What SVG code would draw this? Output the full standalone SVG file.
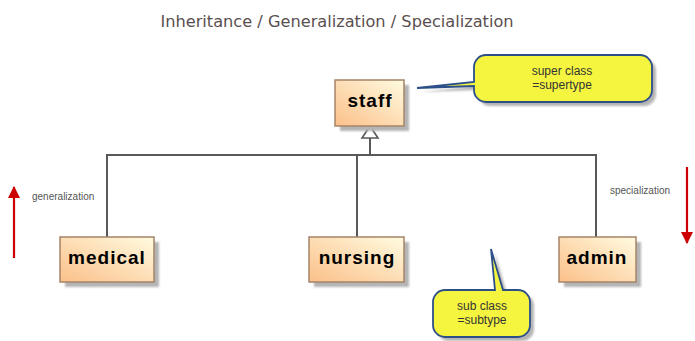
<svg xmlns="http://www.w3.org/2000/svg" width="695" height="341" viewBox="0 0 695 341">
  <defs>
    <linearGradient id="classFill" x1="0" y1="1" x2="1" y2="0">
      <stop offset="0" stop-color="#fbc08a"/>
      <stop offset="1" stop-color="#fffbe0"/>
    </linearGradient>
    <filter id="soft" x="-20%" y="-20%" width="140%" height="140%">
      <feGaussianBlur stdDeviation="1.2"/>
    </filter>
    <marker id="redHead" viewBox="0 0 12 12" refX="11" refY="6" markerWidth="12" markerHeight="12" markerUnits="userSpaceOnUse" orient="auto">
      <path d="M0,0 L12,6 L0,12 Z" fill="#cc0000"/>
    </marker>
    <marker id="redHeadShadow" viewBox="0 0 12 12" refX="11" refY="6" markerWidth="12" markerHeight="12" markerUnits="userSpaceOnUse" orient="auto">
      <path d="M0,0 L12,6 L0,12 Z" fill="#bbbbbb"/>
    </marker>
  </defs>
  <style>
    .title { font-family: "DejaVu Sans", sans-serif; font-size: 16.2px; fill: #5a4f4f; }
    .cls-shadow { fill: #b4b4b4; filter: url(#soft); }
    .cls-box { fill: url(#classFill); stroke: #a58467; stroke-width: 1.5; }
    .cls-name { font-family: "Liberation Sans", Arial, sans-serif; font-size: 19px; font-weight: bold; fill: #000; text-anchor: middle; letter-spacing: 1px; }
    .edge { fill: none; stroke: #595959; stroke-width: 2; }
    .note-shadow { fill: #b4b4b4; filter: url(#soft); }
    .note { fill: #f5f540; stroke: #2c4f8a; stroke-width: 1.8; }
    .note-text { font-family: "Liberation Sans", Arial, sans-serif; font-size: 12px; fill: #333; text-anchor: middle; }
    .label { font-family: "Liberation Sans", Arial, sans-serif; font-size: 10px; fill: #555; }
    .dir { stroke: #cc0000; stroke-width: 2.2; fill: none; }
    .dir-shadow { stroke: #bbbbbb; stroke-width: 2.2; fill: none; filter: url(#soft); }
  </style>

  <text class="title" x="337" y="27" text-anchor="middle">Inheritance / Generalization / Specialization</text>

  <!-- inheritance connectors -->
  <g id="connectors">
    <path class="edge" d="M107,237 V155 H596 V237"/>
    <path class="edge" d="M357,155 V237"/>
    <path class="edge" d="M370,155 V138"/>
    <path d="M370,126 L378,138 H362 Z" fill="#fff" stroke="#595959" stroke-width="1.6"/>
  </g>

  <g id="staff">
    <rect class="cls-shadow" x="340" y="85" width="69" height="46"/>
    <rect class="cls-box" x="335" y="80" width="69" height="46"/>
    <text class="cls-name" x="370" y="107">staff</text>
  </g>

  <g id="medical">
    <rect class="cls-shadow" x="65" y="242" width="94" height="45"/>
    <rect class="cls-box" x="60" y="237" width="94" height="45"/>
    <text class="cls-name" x="107" y="264" letter-spacing="2">medical</text>
  </g>

  <g id="nursing">
    <rect class="cls-shadow" x="314" y="242" width="95" height="45"/>
    <rect class="cls-box" x="309" y="237" width="95" height="45"/>
    <text class="cls-name" x="357" y="264" letter-spacing="2">nursing</text>
  </g>

  <g id="admin">
    <rect class="cls-shadow" x="564" y="242" width="77" height="45"/>
    <rect class="cls-box" x="559" y="237" width="77" height="45"/>
    <text class="cls-name" x="597" y="264" letter-spacing="2">admin</text>
  </g>

  <!-- note: super class -->
  <g id="note-super">
    <path class="note-shadow" transform="translate(4,4)" d="M486,55 H640 A12,12 0 0 1 652,67 V90 A12,12 0 0 1 640,102 H486 A12,12 0 0 1 474,90 V86 L417,88 L474,82 V67 A12,12 0 0 1 486,55 Z"/>
    <path class="note" d="M486,55 H640 A12,12 0 0 1 652,67 V90 A12,12 0 0 1 640,102 H486 A12,12 0 0 1 474,90 V86 L417,88 L474,82 V67 A12,12 0 0 1 486,55 Z"/>
    <text class="note-text" x="562" y="75">super class</text>
    <text class="note-text" x="562" y="89">=supertype</text>
  </g>

  <!-- note: sub class -->
  <g id="note-sub">
    <path class="note-shadow" transform="translate(4,4)" d="M445,290 H495 L491,249 L503,290 H518 A12,12 0 0 1 530,302 V325 A12,12 0 0 1 518,337 H445 A12,12 0 0 1 433,325 V302 A12,12 0 0 1 445,290 Z"/>
    <path class="note" d="M445,290 H495 L491,249 L503,290 H518 A12,12 0 0 1 530,302 V325 A12,12 0 0 1 518,337 H445 A12,12 0 0 1 433,325 V302 A12,12 0 0 1 445,290 Z"/>
    <text class="note-text" x="482" y="310">sub class</text>
    <text class="note-text" x="482" y="324">=subtype</text>
  </g>

  <!-- direction hints -->
  <g id="generalization">
    <line class="dir-shadow" x1="17" y1="260" x2="17" y2="189" marker-end="url(#redHeadShadow)"/>
    <line class="dir" x1="14" y1="258" x2="14" y2="187" marker-end="url(#redHead)"/>
    <text class="label" x="32" y="200">generalization</text>
  </g>

  <g id="specialization">
    <line class="dir-shadow" x1="690" y1="169" x2="690" y2="245" marker-end="url(#redHeadShadow)"/>
    <line class="dir" x1="687" y1="167" x2="687" y2="243" marker-end="url(#redHead)"/>
    <text class="label" x="610" y="194">specialization</text>
  </g>
</svg>
